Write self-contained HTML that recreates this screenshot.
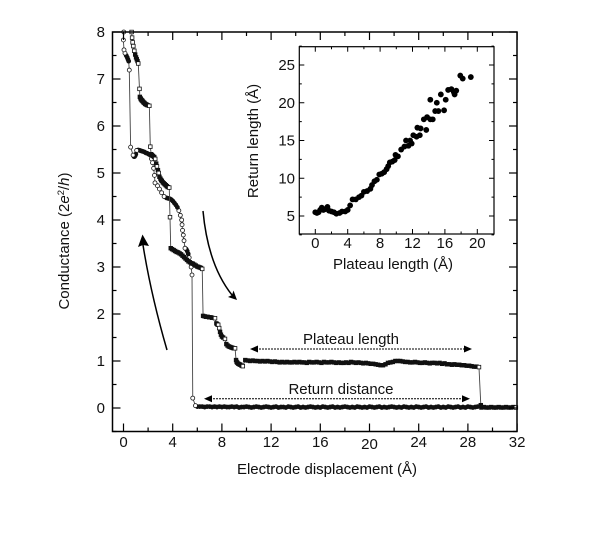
<!DOCTYPE html>
<html>
<head>
<meta charset="utf-8">
<style>
html,body{margin:0;padding:0;background:#fff;width:600px;height:535px;overflow:hidden}
svg{display:block}
text{font-family:"Liberation Sans",sans-serif;fill:#111}
</style>
</head>
<body>
<svg id="chart" width="600" height="535" viewBox="0 0 600 535" xmlns="http://www.w3.org/2000/svg">
<rect width="600" height="535" fill="#fff"/>
<g id="main"></g>
<g id="inset"></g>
<g>
  <path d="M167 350 Q151 295 143 245" fill="none" stroke="#000" stroke-width="1.5"/>
  <path d="M142.5 234.5 L149 246 L143 245 L138 247 Z" fill="#000"/>
  <path d="M203 211 Q208 265 232 295" fill="none" stroke="#000" stroke-width="1.5"/>
  <path d="M237 300 L228 297 L232 295 L233.5 290.5 Z" fill="#000"/>
  <line x1="256" y1="349" x2="466" y2="349" stroke="#000" stroke-width="1" stroke-dasharray="2 1"/>
  <path d="M250 349 L258 345.5 L258 352.5 Z" fill="#000"/>
  <path d="M472 349 L464 345.5 L464 352.5 Z" fill="#000"/>
  <line x1="210" y1="398.7" x2="464" y2="398.7" stroke="#000" stroke-width="1" stroke-dasharray="2 1"/>
  <path d="M204 398.7 L212 395.2 L212 402.2 Z" fill="#000"/>
  <path d="M470 398.7 L462 395.2 L462 402.2 Z" fill="#000"/>
  <text x="351" y="344" font-size="15" text-anchor="middle">Plateau length</text>
  <text x="341" y="394" font-size="15" text-anchor="middle">Return distance</text>
  <text x="327" y="474" font-size="15" text-anchor="middle">Electrode displacement (Å)</text>
  <text transform="translate(69 241) rotate(-90)" font-size="15" text-anchor="middle">Conductance (2<tspan font-style="italic">e</tspan><tspan font-size="9.5" dy="-5">2</tspan><tspan dy="5">/</tspan><tspan font-style="italic">h</tspan>)</text>
  <text x="393" y="269" font-size="15" text-anchor="middle">Plateau length (Å)</text>
  <text transform="translate(258 141) rotate(-90)" font-size="15" text-anchor="middle">Return length (Å)</text>
</g>
</svg>
<script>
// Forward (stretching) trace, square markers: [displacement, conductance]
var forwardPoints=[[0.66,8.0],[0.7,7.88],[0.74,7.78],[0.8,7.7],[0.88,7.6],[0.95,7.52],[1.02,7.46],[1.08,7.42],[1.14,7.38],[1.2,7.33],[1.3,6.79],[1.33,6.62],[1.38,6.59],[1.42,6.57],[1.47,6.55],[1.52,6.54],[1.58,6.52],[1.64,6.5],[1.7,6.49],[1.76,6.47],[1.83,6.46],[1.9,6.45],[1.97,6.44],[2.1,6.43],[2.18,5.56],[2.25,5.4],[2.32,5.38],[2.4,5.36],[2.5,5.34],[2.58,5.3],[2.66,5.2],[2.72,5.14],[2.8,5.06],[2.86,5.0],[2.92,4.92],[3.0,4.88],[3.06,4.85],[3.12,4.83],[3.2,4.8],[3.28,4.78],[3.36,4.76],[3.44,4.74],[3.52,4.72],[3.6,4.7],[3.72,4.69],[3.78,4.06],[3.84,3.4],[3.95,3.38],[4.08,3.36],[4.2,3.34],[4.32,3.32],[4.44,3.31],[4.56,3.29],[4.68,3.27],[4.8,3.24],[4.92,3.21],[5.04,3.18],[5.16,3.15],[5.28,3.12],[5.4,3.1],[5.52,3.08],[5.64,3.07],[5.76,3.05],[5.88,3.03],[6.0,3.01],[6.1,3.0],[6.2,2.99],[6.3,2.98],[6.4,2.96],[6.47,1.96],[6.6,1.95],[6.72,1.94],[6.84,1.94],[6.96,1.93],[7.08,1.93],[7.2,1.92],[7.44,1.91],[7.55,1.8],[7.62,1.78],[7.7,1.77],[7.78,1.7],[7.85,1.62],[7.92,1.56],[8.0,1.52],[8.1,1.5],[8.25,1.47],[8.36,1.36],[8.46,1.33],[8.56,1.31],[8.66,1.3],[8.76,1.29],[8.86,1.28],[8.96,1.27],[9.07,1.27],[9.15,1.02],[9.2,0.98],[9.26,0.96],[9.34,0.94],[9.42,0.93],[9.5,0.92],[9.6,0.9],[9.7,0.89],[9.9,1.02],[10.1,1.01],[10.3,1.0],[10.5,1.01],[10.7,1.0],[10.9,1.0],[11.1,0.99],[11.3,1.0],[11.5,0.99],[11.7,1.0],[11.9,0.99],[12.1,0.98],[12.3,0.99],[12.5,0.98],[12.7,0.97],[12.9,0.98],[13.1,0.97],[13.3,0.98],[13.5,0.97],[13.7,0.97],[13.9,0.98],[14.1,0.97],[14.3,0.98],[14.5,0.97],[14.7,0.97],[14.9,0.96],[15.1,0.98],[15.3,0.97],[15.5,0.97],[15.7,0.98],[15.9,0.97],[16.1,0.96],[16.3,0.98],[16.5,0.97],[16.7,0.97],[16.9,0.98],[17.1,0.97],[17.3,0.96],[17.5,0.97],[17.7,0.96],[17.9,0.96],[18.1,0.97],[18.3,0.96],[18.5,0.98],[18.7,0.97],[18.9,0.96],[19.1,0.97],[19.3,0.96],[19.5,0.95],[19.7,0.96],[19.9,0.95],[20.1,0.94],[20.3,0.94],[20.5,0.93],[20.7,0.92],[20.9,0.91],[21.1,0.91],[21.3,0.93],[21.5,0.96],[21.7,0.97],[21.9,0.98],[22.1,1.0],[22.3,1.0],[22.5,1.0],[22.7,0.99],[22.9,0.98],[23.1,0.98],[23.3,0.97],[23.5,0.97],[23.7,0.98],[23.9,0.97],[24.1,0.96],[24.3,0.96],[24.5,0.97],[24.7,0.96],[24.9,0.95],[25.1,0.96],[25.3,0.96],[25.5,0.95],[25.7,0.96],[25.9,0.94],[26.1,0.95],[26.3,0.93],[26.5,0.93],[26.7,0.92],[26.9,0.93],[27.1,0.92],[27.3,0.92],[27.5,0.91],[27.7,0.91],[27.9,0.9],[28.1,0.9],[28.3,0.89],[28.5,0.88],[28.7,0.88],[28.9,0.87],[29.05,0.06],[29.1,0.01],[29.3,0.02],[29.5,0.01],[29.7,0.01],[29.9,0.02],[30.1,0.01],[30.3,0.01],[30.5,0.02],[30.7,0.01],[30.9,0.01],[31.1,0.02],[31.3,0.01],[31.5,0.01],[31.7,0.02],[31.9,0.01]];
// Return (closing) trace, circle markers: [displacement, conductance]
var returnPoints=[[29.05,0.05],[28.8,0.03],[28.6,0.02],[28.4,0.01],[28.2,0.02],[28,0.03],[27.8,0.01],[27.6,0.02],[27.4,0.01],[27.2,0.03],[27,0.02],[26.8,0.01],[26.6,0.02],[26.4,0.03],[26.2,0.01],[26,0.02],[25.8,0.01],[25.6,0.03],[25.4,0.02],[25.2,0.01],[25,0.02],[24.8,0.01],[24.6,0.03],[24.4,0.02],[24.2,0.01],[24,0.02],[23.8,0.03],[23.6,0.01],[23.4,0.02],[23.2,0.01],[23,0.02],[22.8,0.03],[22.6,0.01],[22.4,0.02],[22.2,0.01],[22,0.02],[21.8,0.03],[21.6,0.02],[21.4,0.01],[21.2,0.02],[21,0.01],[20.8,0.03],[20.6,0.02],[20.4,0.01],[20.2,0.02],[20,0.03],[19.8,0.01],[19.6,0.02],[19.4,0.01],[19.2,0.02],[19,0.03],[18.8,0.01],[18.6,0.02],[18.4,0.01],[18.2,0.02],[18,0.03],[17.8,0.02],[17.6,0.01],[17.4,0.02],[17.2,0.01],[17,0.03],[16.8,0.02],[16.6,0.01],[16.4,0.02],[16.2,0.03],[16,0.01],[15.8,0.02],[15.6,0.01],[15.4,0.02],[15.2,0.03],[15,0.02],[14.8,0.01],[14.6,0.02],[14.4,0.01],[14.2,0.03],[14,0.02],[13.8,0.01],[13.6,0.02],[13.4,0.03],[13.2,0.01],[13,0.02],[12.8,0.02],[12.6,0.01],[12.4,0.03],[12.2,0.02],[12,0.01],[11.8,0.02],[11.6,0.03],[11.4,0.02],[11.2,0.01],[11,0.02],[10.8,0.03],[10.6,0.02],[10.4,0.01],[10.2,0.02],[10,0.03],[9.8,0.02],[9.6,0.02],[9.4,0.01],[9.2,0.03],[9,0.02],[8.8,0.03],[8.6,0.02],[8.4,0.02],[8.2,0.03],[8,0.02],[7.8,0.03],[7.6,0.02],[7.4,0.03],[7.2,0.02],[7,0.03],[6.8,0.03],[6.6,0.02],[6.4,0.03],[6.2,0.03],[6,0.03],[5.85,0.05],[5.63,0.21],[5.57,2.83],[5.5,3.0],[5.42,3.1],[5.34,3.2],[5.26,3.28],[5.18,3.34],[5.1,3.38],[5.0,3.4],[4.92,3.56],[4.86,3.68],[4.8,3.78],[4.76,3.9],[4.73,4.0],[4.62,4.1],[4.5,4.2],[4.38,4.27],[4.26,4.32],[4.14,4.36],[4.02,4.4],[3.9,4.43],[3.78,4.45],[3.64,4.46],[3.5,4.47],[3.3,4.5],[3.1,4.58],[2.92,4.66],[2.76,4.73],[2.56,4.79],[2.52,4.95],[2.45,5.1],[2.36,5.22],[2.28,5.3],[2.18,5.38],[2.05,5.4],[1.92,5.42],[1.8,5.43],[1.68,5.45],[1.56,5.46],[1.44,5.47],[1.32,5.48],[1.2,5.49],[1.07,5.48],[1.0,5.4],[0.95,5.37],[0.9,5.35],[0.85,5.35],[0.78,5.38],[0.58,5.55],[0.47,7.19],[0.42,7.38],[0.36,7.42],[0.3,7.46],[0.22,7.5],[0.12,7.55],[0.04,7.62],[-0.01,7.83],[0.02,8.0]];
// Inset scatter: [plateau length, return length]
var insetPoints=[[0,5.5],[0.2,5.4],[0.4,5.5],[0.6,5.8],[0.8,6.1],[1,5.8],[1.2,5.9],[1.5,6.2],[1.7,5.7],[2,5.6],[2.3,5.5],[2.6,5.3],[3,5.4],[3.3,5.6],[3.7,5.6],[4,5.8],[4.3,6.4],[4.6,7.2],[5,7.2],[5.4,7.5],[5.7,7.7],[6,8.2],[6.4,8.3],[6.8,8.6],[7,9.1],[7.3,9.6],[7.6,9.8],[7.9,10.5],[8.2,10.6],[8.5,10.8],[8.8,11.2],[9,11.6],[9.2,12.1],[9.5,12.2],[9.8,12.4],[9.9,13.1],[10.2,12.9],[10.6,13.8],[11,14.2],[11.2,15],[11.5,14.3],[11.7,15],[11.9,14.6],[12.1,15.7],[12.5,15.5],[12.9,15.7],[12.6,16.7],[13,16.6],[13.4,17.8],[13.7,16.4],[13.8,18.1],[14.2,17.8],[14.5,17.8],[14.2,20.4],[14.8,18.9],[15,20],[15.2,18.9],[15.5,21.1],[15.9,19],[16.1,20.4],[16.4,21.7],[16.8,21.8],[17.1,21.4],[17.4,21.6],[17.2,21.1],[17.9,23.6],[18.2,23.2],[19.2,23.4]];
// Tick labels
var mainXTicks=[0,4,8,12,16,20,24,28,32];
var mainYTicks=[0,1,2,3,4,5,6,7,8];
var insetXTicks=[0,4,8,12,16,20];
var insetYTicks=[5,10,15,20,25];

var NS='http://www.w3.org/2000/svg';
function mainSx(v){return 123.5+v*12.3;}
function mainSy(v){return 408-v*47;}
function insetSx(v){return 315.3+v*8.1;}
function insetSy(v){return 216-(v-5)*7.55;}
function make(parent,tag,attrs,text){
  var el=document.createElementNS(NS,tag);
  for(var k in attrs){el.setAttribute(k,attrs[k]);}
  if(text!==undefined){el.textContent=text;}
  parent.appendChild(el);
  return el;
}
var main=document.getElementById('main');
var inset=document.getElementById('inset');

function drawTicks(parent,opts){
  var v,x,y,len,el;
  for(v=opts.xMin;v<=opts.xMax+1e-6;v+=opts.xMinor){
    len=(Math.abs(v/opts.xMajor-Math.round(v/opts.xMajor))<1e-6)?opts.major:opts.minor;
    x=opts.sx(v);
    el=make(parent,'line',{x1:x,x2:x,y1:opts.bottom,y2:opts.bottom-len,stroke:'#000','stroke-width':opts.w});
    
    
    el=make(parent,'line',{x1:x,x2:x,y1:opts.top,y2:opts.top+len,stroke:'#000','stroke-width':opts.w});
    
    
  }
  for(v=opts.yMin;v<=opts.yMax+1e-6;v+=opts.yMinor){
    len=(Math.abs(v/opts.yMajor-Math.round(v/opts.yMajor))<1e-6)?opts.major:opts.minor;
    y=opts.sy(v);
    el=make(parent,'line',{x1:opts.left,x2:opts.left+len,y1:y,y2:y,stroke:'#000','stroke-width':opts.w});
    
    
    el=make(parent,'line',{x1:opts.right,x2:opts.right-len,y1:y,y2:y,stroke:'#000','stroke-width':opts.w});
    
    
  }
}

function linePath(points){
  var d='';
  points.forEach(function(p,i){d+=(i?'L':'M')+mainSx(p[0]).toFixed(2)+' '+mainSy(p[1]).toFixed(2);});
  return d;
}
// Densely overplotted markers read as solid; the last marker of a run stays open.
function markerFill(points,i){
  var n=points[i+1];
  if(!n){return '#fff';}
  var dx=mainSx(n[0])-mainSx(points[i][0]),dy=mainSy(n[1])-mainSy(points[i][1]);
  return Math.sqrt(dx*dx+dy*dy)<3?'#111':'#fff';
}

// Main series
var rl=make(main,'path',{d:linePath(returnPoints),fill:'none',stroke:'#444','stroke-width':0.9});


returnPoints.forEach(function(p,i){
  var c=make(main,'circle',{cx:mainSx(p[0]),cy:mainSy(p[1]),r:2,fill:markerFill(returnPoints,i),stroke:'#111','stroke-width':0.8});
  
  
});
var fl=make(main,'path',{d:linePath(forwardPoints),fill:'none',stroke:'#444','stroke-width':0.9});


forwardPoints.forEach(function(p,i){
  var s=make(main,'rect',{x:mainSx(p[0])-1.8,y:mainSy(p[1])-1.8,width:3.6,height:3.6,fill:markerFill(forwardPoints,i),stroke:'#111','stroke-width':0.8});
  
  
});

// Main frame, ticks, labels
var mf=make(main,'rect',{x:112.5,y:32,width:404.5,height:399.5,fill:'none',stroke:'#000','stroke-width':1.5});


drawTicks(main,{xMin:0,xMax:32,xMinor:2,xMajor:4,yMin:-0.5,yMax:8,yMinor:0.5,yMajor:1,sx:mainSx,sy:mainSy,
  left:112.5,right:517,top:32,bottom:431.5,major:8,minor:4,w:1.2});
mainXTicks.forEach(function(v){
  var t=make(main,'text',{x:mainSx(v),y:(v===20?449:447),'font-size':15,'text-anchor':'middle'},String(v));
  
  
});
mainYTicks.forEach(function(v){
  var t=make(main,'text',{x:105,y:mainSy(v)+5,'font-size':15,'text-anchor':'end'},String(v));
  
  
});

// Inset
var bg=make(inset,'rect',{x:299.3,y:46.7,width:194.7,height:187.3,fill:'#fff',stroke:'#000','stroke-width':1.2});


drawTicks(inset,{xMin:0,xMax:20,xMinor:2,xMajor:4,yMin:2.5,yMax:27.5,yMinor:2.5,yMajor:5,sx:insetSx,sy:insetSy,
  left:299.3,right:494,top:46.7,bottom:234,major:5,minor:2.5,w:1});
insetXTicks.forEach(function(v){
  var t=make(inset,'text',{x:insetSx(v),y:248,'font-size':15,'text-anchor':'middle'},String(v));
  
  
});
insetYTicks.forEach(function(v){
  var t=make(inset,'text',{x:295,y:insetSy(v)+5,'font-size':15,'text-anchor':'end'},String(v));
  
  
});
insetPoints.forEach(function(p){
  var c=make(inset,'circle',{cx:insetSx(p[0]),cy:insetSy(p[1]),r:2.9,fill:'#000'});
  
  
});
</script>
</body>
</html>
